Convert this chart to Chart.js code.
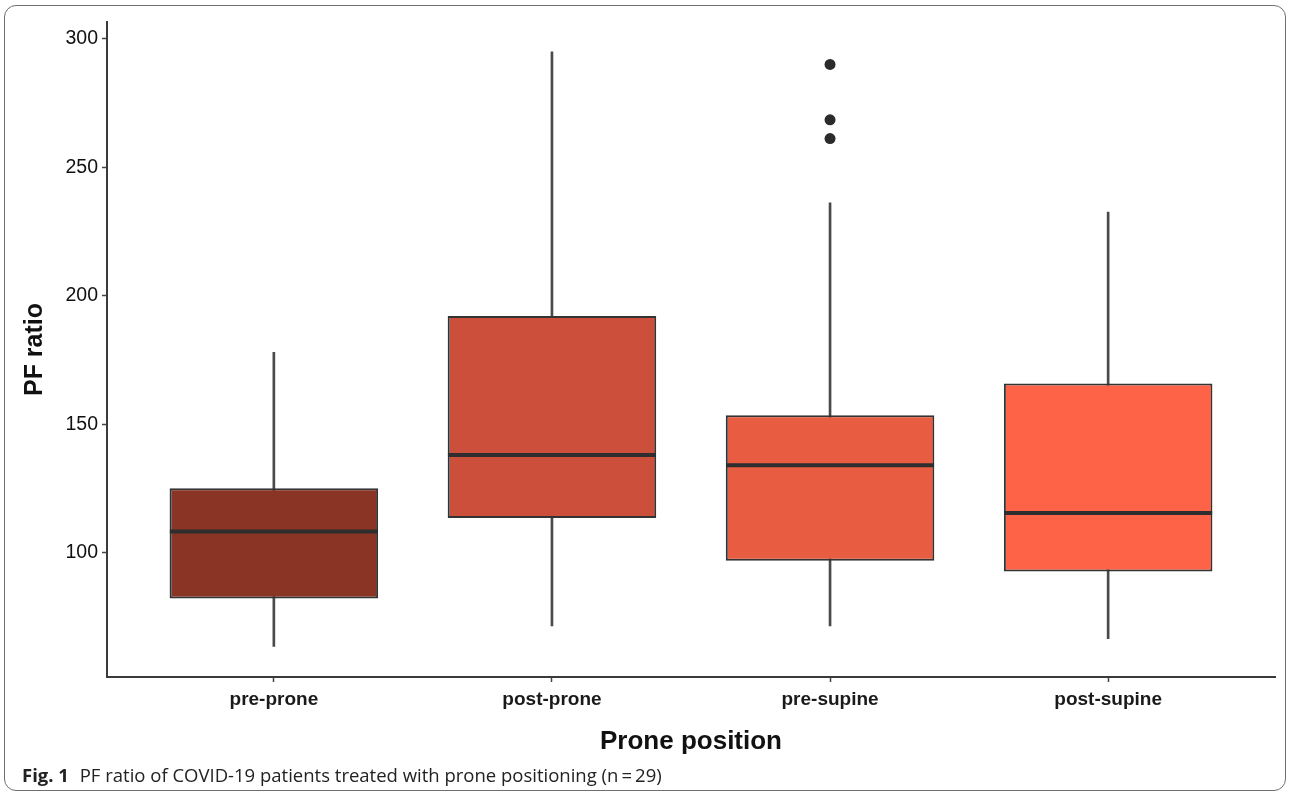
<!DOCTYPE html>
<html>
<head>
<meta charset="utf-8">
<script src="https://cdn.jsdelivr.net/npm/chart.js@4"></script>
<style>
  html, body { margin: 0; padding: 0; background: #fff; }
  #frame {
    position: absolute; left: 4px; top: 5px; width: 1282px; height: 786px;
    border: 1.5px solid #6f6f6f; border-radius: 12px; box-sizing: border-box;
  }
  #wrap { position: absolute; left: 0; top: 0; width: 1290px; height: 765px; }
  #caption {
    position: absolute; left: 22px; top: 762px;
    font-family: "Open Sans", sans-serif; font-size: 18.5px; color: #222;
    white-space: nowrap;
  }
  #caption b { font-weight: 700; margin-right: 6px; }
</style>
</head>
<body>
<div id="frame"></div>
<div id="wrap"><canvas id="box-chart"></canvas></div>
<div id="caption"><b>Fig. 1</b> PF ratio of COVID-19 patients treated with prone positioning (n&#8201;=&#8201;29)</div>
<script>
const categories = ["pre-prone", "post-prone", "pre-supine", "post-supine"];
const whiskerLow = [63.5, 71.5, 71.5, 66.5];
const q1 = [82.2, 113.5, 96.9, 92.7];
const median = [108.2, 138.0, 134.0, 115.4];
const q3 = [125.1, 192.1, 153.5, 165.9];
const whiskerHigh = [178.0, 295.0, 236.2, 232.6];
const outliers = [
  { group: 2, value: 290.1 },
  { group: 2, value: 268.5 },
  { group: 2, value: 261.2 }
];
const yTicks = [100, 150, 200, 250, 300];
const fills = ["#8a3425", "#cc4f3c", "#e85c42", "#ff6347"];

const ctx = document.getElementById("box-chart").getContext("2d");

new Chart(ctx, {
  type: "bar",
  data: {
    datasets: [
      {
        // whiskers
        data: categories.map((c, i) => ({ x: i, y: [whiskerLow[i], whiskerHigh[i]] })),
        backgroundColor: "#4a4a4a",
        barThickness: 2,
        grouped: false,
        order: 3
      },
      {
        // boxes
        data: categories.map((c, i) => ({ x: i, y: [q1[i], q3[i]] })),
        backgroundColor: fills,
        borderColor: "#333",
        borderWidth: 2,
        borderSkipped: false,
        barPercentage: 0.75,
        categoryPercentage: 1,
        grouped: false,
        order: 2
      },
      {
        // medians
        type: "scatter",
        data: categories.map((c, i) => ({ x: i, y: median[i] })),
        pointStyle: "line",
        pointRadius: 104,
        borderColor: "#2e2e2e",
        borderWidth: 4,
        clip: false,
        order: 1
      },
      {
        type: "scatter",
        data: outliers.map((o) => ({ x: o.group, y: o.value })),
        pointStyle: "circle",
        pointRadius: 5.5,
        backgroundColor: "#2b2b2b",
        borderWidth: 0,
        order: 0
      }
    ]
  },
  options: {
    responsive: true,
    maintainAspectRatio: false,
    animation: false,
    layout: { autoPadding: false, padding: { top: 22, right: 15, left: 0, bottom: 0 } },
    plugins: {
      legend: { display: false },
      tooltip: { enabled: false }
    },
    scales: {
      x: {
        type: "linear",
        min: -0.6,
        max: 3.6,
        offset: false,
        afterBuildTicks: (scale) => {
          scale.ticks = categories.map((c, i) => ({ value: i }));
        },
        afterFit: (scale) => { scale.height = 88; },
        ticks: {
          callback: (v) => categories[v],
          font: { family: "Liberation Sans", size: 19, weight: "bold" },
          color: "#1a1a1a",
          padding: 6
        },
        grid: { drawOnChartArea: false, offset: false, tickLength: 5, color: "#444", tickWidth: 1.5 },
        border: { color: "#3a3a3a", width: 2 },
        title: {
          display: true,
          text: "Prone position",
          font: { family: "Liberation Sans", size: 26, weight: "bold" },
          color: "#111",
          padding: { top: 10, bottom: 8 }
        }
      },
      y: {
        min: 51.6,
        max: 306.6,
        afterBuildTicks: (scale) => {
          scale.ticks = yTicks.map((v) => ({ value: v }));
        },
        afterFit: (scale) => { scale.width = 107; },
        ticks: {
          font: { family: "Liberation Sans", size: 19.5 },
          color: "#111",
          padding: 4
        },
        grid: { drawOnChartArea: false, tickLength: 5, color: "#444", tickWidth: 1.5 },
        border: { color: "#3a3a3a", width: 2 },
        title: {
          display: true,
          text: "PF ratio",
          font: { family: "Liberation Sans", size: 25, weight: "bold" },
          color: "#111",
          padding: { top: 20, bottom: 0 }
        }
      }
    }
  }
});
</script>
</body>
</html>
